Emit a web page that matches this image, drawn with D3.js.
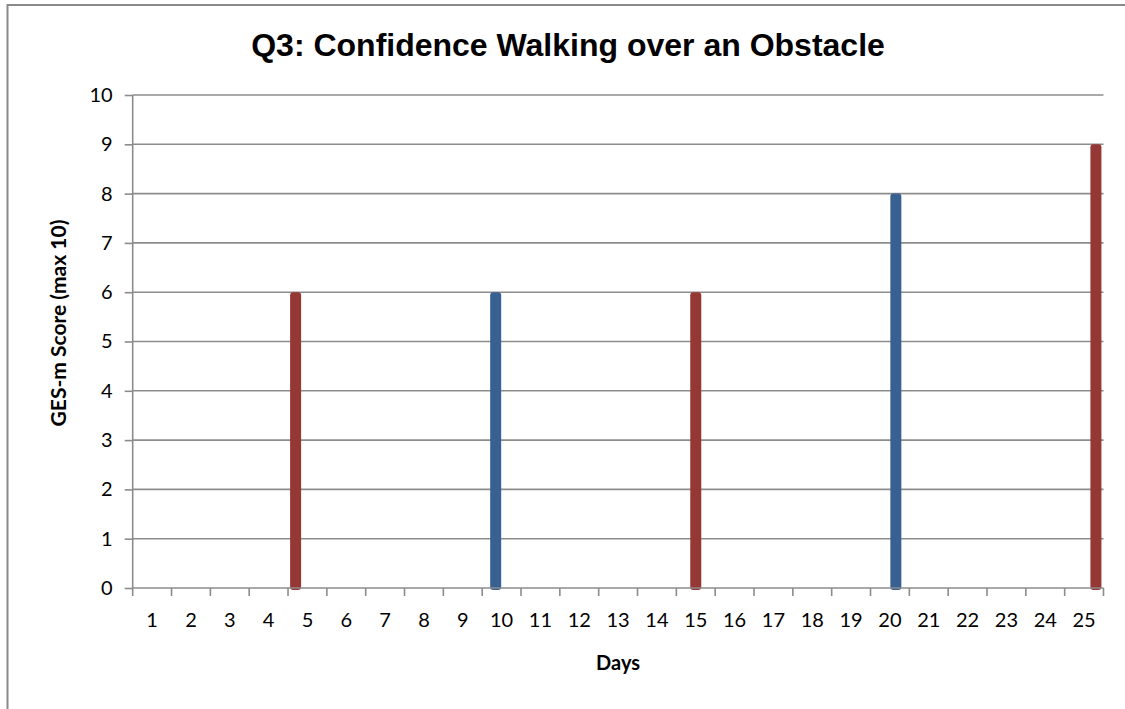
<!DOCTYPE html>
<html>
<head>
<meta charset="utf-8">
<script src="https://cdn.jsdelivr.net/npm/d3@7"></script>
<style>
  html, body { margin: 0; padding: 0; background: #fff; }
  svg { display: block; }
</style>
</head>
<body>
<svg id="chart" width="1125" height="709"></svg>
<script>
// Days on the x axis and the score series (one series per assessment day)
const days = d3.range(1, 26).map(String);
const seriesNames = ["S1", "S2", "S3", "S4", "S5"];
const seriesDays = ["5", "10", "15", "20", "25"];
const seriesValues = [6, 6, 6, 8, 9];
const seriesColors = ["#953735", "#386192", "#953735", "#386192", "#953735"];
const yTicks = [0, 1, 2, 3, 4, 5, 6, 7, 8, 9, 10];

const svg = d3.select("#chart");
const W = 1125, H = 709;
const plot = { left: 132.7, right: 1103.5, top: 95, bottom: 588 };

// frame
svg.append("rect")
  .attr("x", 7.5).attr("y", 5).attr("width", W + 10).attr("height", H + 10)
  .attr("fill", "#fff").attr("stroke", "#8a8a8a").attr("stroke-width", 2);

const x = d3.scaleBand().domain(days).range([plot.left, plot.right]).padding(0);
const y = d3.scaleLinear().domain([0, 10]).range([plot.bottom, plot.top]);
// slot offset within each day for each series
const xs = d3.scaleBand().domain(seriesNames).range([-14.8, 14.8]);

// gridlines
svg.append("g").selectAll("line").data(yTicks.filter(d => d > 0)).join("line")
  .attr("x1", plot.left).attr("x2", plot.right)
  .attr("y1", d => y(d)).attr("y2", d => y(d))
  .attr("stroke", "#8c8c8c").attr("stroke-width", 1.6);

// y axis
const yAxis = svg.append("g")
  .attr("transform", `translate(${plot.left},0)`)
  .call(d3.axisLeft(y).tickValues(yTicks).tickSize(8).tickPadding(12));
yAxis.select(".domain").attr("stroke", "#8c8c8c").attr("stroke-width", 1.6)
  .attr("d", `M0,${plot.top}V${plot.bottom}`);
yAxis.selectAll(".tick line").attr("stroke", "#8c8c8c").attr("stroke-width", 1.6);
yAxis.selectAll(".tick text")
  .attr("font-family", "Lato, 'Open Sans', sans-serif").attr("font-size", 20)
  .attr("fill", "#000");

// bars
const bars = seriesNames.map((s, i) => ({ s, day: seriesDays[i], v: seriesValues[i], c: seriesColors[i] }));
const bw = 11, r = 3;
svg.append("g").selectAll("path").data(bars).join("path")
  .attr("fill", d => d.c)
  .attr("d", d => {
    const cx = x(d.day) + x.bandwidth() / 2 + xs(d.s) + xs.bandwidth() / 2;
    const x0 = cx - bw / 2, x1 = cx + bw / 2;
    const yt = y(d.v), yb = y(0) + 2;
    return `M${x0},${yb - r}V${yt + r}Q${x0},${yt} ${x0 + r},${yt}H${x1 - r}Q${x1},${yt} ${x1},${yt + r}V${yb - r}Q${x1},${yb} ${x1 - r},${yb}H${x0 + r}Q${x0},${yb} ${x0},${yb - r}Z`;
  });

// x axis
const xAxis = svg.append("g")
  .attr("transform", `translate(0,${plot.bottom})`)
  .call(d3.axisBottom(x).tickSize(0).tickPadding(25));
xAxis.select(".domain").attr("stroke", "#8c8c8c").attr("stroke-width", 1.6)
  .attr("d", `M${plot.left},0H${plot.right}`);
xAxis.selectAll(".tick text")
  .attr("font-family", "Lato, 'Open Sans', sans-serif").attr("font-size", 20)
  .attr("fill", "#000");
// category boundary ticks
svg.append("g").selectAll("line").data(days.concat(["end"])).join("line")
  .attr("x1", (d, i) => plot.left + i * x.step()).attr("x2", (d, i) => plot.left + i * x.step())
  .attr("y1", plot.bottom).attr("y2", plot.bottom + 8)
  .attr("stroke", "#8c8c8c").attr("stroke-width", 1.6);

// titles
svg.append("text")
  .attr("x", 568).attr("y", 56).attr("text-anchor", "middle")
  .attr("font-family", "'Liberation Sans', Arial, sans-serif").attr("font-weight", "bold")
  .attr("font-size", 32).attr("fill", "#000")
  .text("Q3: Confidence Walking over an Obstacle");

svg.append("text")
  .attr("x", (plot.left + plot.right) / 2).attr("y", 670).attr("text-anchor", "middle")
  .attr("font-family", "Lato, 'Open Sans', sans-serif").attr("font-weight", "bold")
  .attr("font-size", 20).attr("fill", "#000")
  .text("Days");

svg.append("text")
  .attr("transform", "translate(66,323) rotate(-90)").attr("text-anchor", "middle")
  .attr("font-family", "Lato, 'Open Sans', sans-serif").attr("font-weight", "bold")
  .attr("font-size", 21).attr("fill", "#000")
  .text("GES-m Score (max 10)");
</script>
</body>
</html>
